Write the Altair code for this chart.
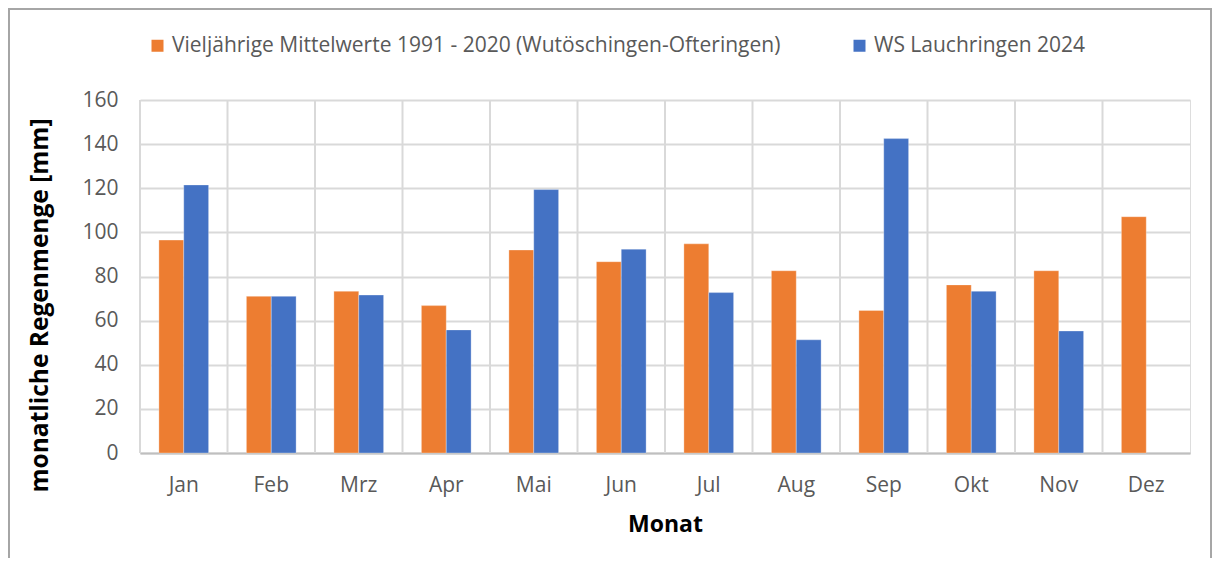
import altair as alt
import pandas as pd

months = ["Jan", "Feb", "Mrz", "Apr", "Mai", "Jun", "Jul", "Aug", "Sep", "Okt", "Nov", "Dez"]
series_names = ["Vieljährige Mittelwerte 1991 - 2020 (Wutöschingen-Ofteringen)", "WS Lauchringen 2024"]
mittel = [96.5, 71, 73.3, 66.8, 92, 86.7, 94.8, 82.6, 64.6, 76.2, 82.6, 107.1]
lauchringen = [121.5, 71, 71.6, 55.8, 119.4, 92.4, 72.7, 51.3, 142.5, 73.3, 55.3, None]
colors = ["#ED7D31", "#4472C4"]
y_ticks = [0, 20, 40, 60, 80, 100, 120, 140, 160]

rows = []
for i, m in enumerate(months):
    rows.append({"Monat": m, "Reihe": series_names[0], "Wert": mittel[i]})
    if lauchringen[i] is not None:
        rows.append({"Monat": m, "Reihe": series_names[1], "Wert": lauchringen[i]})
df = pd.DataFrame(rows)
grid_df = pd.DataFrame({"Monat": months})

FONT = "Open Sans"
GRID = "#d9d9d9"
LABEL = "#595959"

x_scale = alt.Scale(domain=months, paddingInner=0, paddingOuter=0)
x_axis = alt.Axis(title="Monat", labelAngle=0, grid=False, ticks=False,
                  labelFont=FONT, labelFontSize=21, labelColor=LABEL,
                  labelPadding=21, domainColor="#bfbfbf", domainWidth=2,
                  titleFont=FONT, titleFontSize=23, titleFontWeight="bold",
                  titleColor="black", titleY=71, titleBaseline="middle")

vgrid = alt.Chart(grid_df).mark_rule(color=GRID, strokeWidth=2).encode(
    x=alt.X("Monat:N", scale=x_scale, sort=months, bandPosition=0, axis=x_axis)
)

bars = alt.Chart(df).mark_bar(stroke="white", strokeWidth=0.5, strokeOpacity=0.6).encode(
    x=alt.X("Monat:N", scale=x_scale, sort=months, axis=x_axis),
    xOffset=alt.XOffset("Reihe:N", scale=alt.Scale(domain=series_names, paddingInner=0, paddingOuter=0.76)),
    y=alt.Y("Wert:Q", scale=alt.Scale(domain=[0, 160], nice=False),
            axis=alt.Axis(title="monatliche Regenmenge [mm]", values=y_ticks, grid=True,
                          gridColor=GRID, gridWidth=2, ticks=False, domain=False,
                          labelFont=FONT, labelFontSize=21, labelColor=LABEL,
                          labelPadding=22,
                          titleFont=FONT, titleFontSize=24.5, titleFontWeight="bold",
                          titleColor="black", titleX=-100, titleY=205, titleAngle=270,
                          titleAlign="center", titleBaseline="middle")),
    color=alt.Color("Reihe:N", scale=alt.Scale(domain=series_names, range=colors),
                    legend=alt.Legend(title=None, orient="none", direction="horizontal",
                                      legendX=7, legendY=-65, columns=2, columnPadding=68,
                                      symbolType="square", symbolSize=144, symbolStrokeWidth=0,
                                      labelFont=FONT, labelFontSize=21, labelColor=LABEL,
                                      labelLimit=2000, labelOffset=4)),
)

frame = alt.Chart(grid_df).mark_rect(fill=None, stroke="#a6a6a6", strokeWidth=1.5).encode(
    x=alt.value(-131.2), x2=alt.value(1071.2), y=alt.value(-91), y2=alt.value(480)
)

chart = alt.layer(vgrid, bars, frame).properties(
    width=1050, height=353,
    autosize=alt.AutoSizeParams(type="none"),
    padding={"left": 132, "top": 92, "right": 22, "bottom": 105},
).configure_view(stroke=GRID, strokeWidth=2).configure(background="white")

chart.save("out.html", embed_options={"renderer": "svg", "actions": False})
